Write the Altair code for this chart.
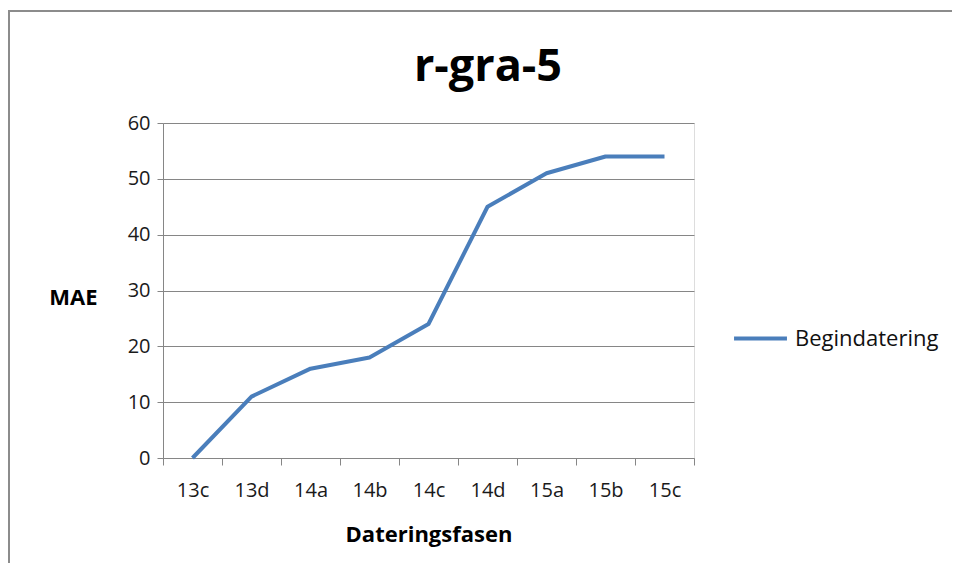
import altair as alt
import pandas as pd

categories = ["13c", "13d", "14a", "14b", "14c", "14d", "15a", "15b", "15c"]
values = [0, 11, 16, 18, 24, 45, 51, 54, 54]
series_name = "Begindatering"
y_ticks = [0, 10, 20, 30, 40, 50, 60]
title_text = "r-gra-5"

df = pd.DataFrame({"fase": categories, "mae": values, "serie": [series_name] * len(categories)})

FONT = "Open Sans"
GRID = "#868686"

line = alt.Chart(df).mark_line(strokeWidth=4, strokeJoin="round", strokeCap="butt").encode(
    x=alt.X("fase:N", sort=categories, bandPosition=0.5,
            scale=alt.Scale(type="band", paddingInner=0, paddingOuter=0),
            axis=alt.Axis(title="Dateringsfasen", labelAngle=0, tickBand="extent",
                          grid=False, domainColor=GRID, tickColor=GRID, tickSize=7,
                          labelFont=FONT, labelFontSize=20, labelColor="#1a1a1a", labelPadding=15,
                          titleFont=FONT, titleFontSize=22, titleFontWeight="bold", titleColor="#000000",
                          titleY=76, titleBaseline="middle")),
    y=alt.Y("mae:Q", scale=alt.Scale(domain=[0, 60], nice=False),
            axis=alt.Axis(title="MAE", values=y_ticks, grid=True, gridColor=GRID, gridWidth=1,
                          domainColor=GRID, tickColor=GRID, tickSize=6,
                          labelFont=FONT, labelFontSize=20, labelColor="#1a1a1a", labelPadding=7,
                          titleFont=FONT, titleFontSize=22, titleFontWeight="bold", titleColor="#000000",
                          titleAngle=0, titleAlign="right", titleBaseline="middle",
                          titleX=-66, titleY=174)),
    color=alt.Color("serie:N", scale=alt.Scale(range=["#4A7EBB"]),
                    legend=alt.Legend(title=None, orient="none", legendX=569, legendY=187,
                                      symbolType="stroke", symbolSize=2800, symbolStrokeWidth=4,
                                      labelFont=FONT, labelFontSize=22, labelColor="#111111",
                                      labelOffset=6, padding=0)),
)

frame = alt.Data(values=[{}])
left_border = alt.Chart(frame).mark_rule(color="#8c8c8c", strokeWidth=2).encode(
    x=alt.value(-154), y=alt.value(-112), y2=alt.value(700))
top_border = alt.Chart(frame).mark_rule(color="#8c8c8c", strokeWidth=2).encode(
    x=alt.value(-155), x2=alt.value(1000), y=alt.value(-112))

title = alt.Chart(alt.Data(values=[{"t": title_text}])).mark_text(
    font=FONT, fontSize=45, fontWeight="bold", color="#000000",
    align="center", baseline="alphabetic").encode(
    text="t:N", x=alt.value(325), y=alt.value(-42))

chart = alt.layer(left_border, top_border, title, line).properties(
    width=531, height=335,
    autosize=alt.AutoSizeParams(type="none"),
    padding={"left": 155, "top": 115, "right": 258, "bottom": 105},
).configure_view(stroke=None).configure(background="white")

chart.save("out.html", embed_options={"renderer": "svg", "actions": False})
